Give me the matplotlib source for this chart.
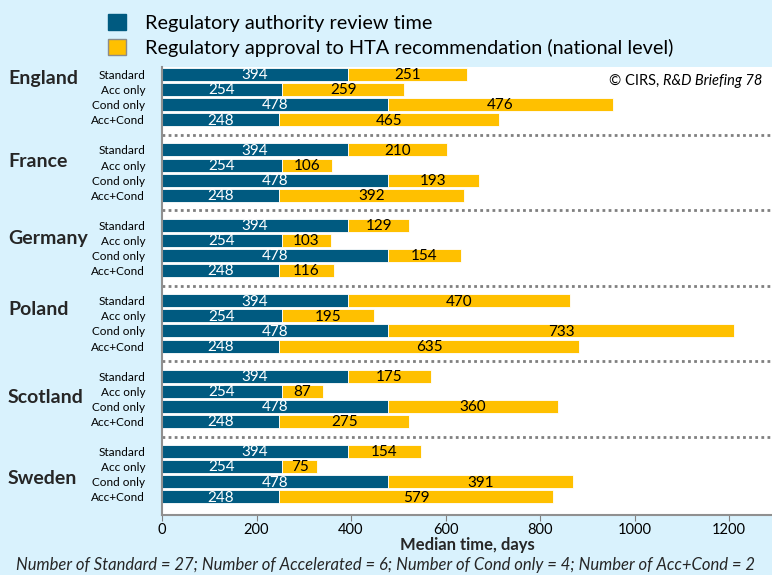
import numpy as np
import matplotlib.pyplot as plt
from matplotlib.patches import Patch

plt.rcParams['font.family'] = ['Lato', 'DejaVu Sans']

# Data
countries = ['England', 'France', 'Germany', 'Poland', 'Scotland', 'Sweden']
pathways = ['Standard', 'Acc only', 'Cond only', 'Acc+Cond']
review_time = [394, 254, 478, 248]
hta_time = {
    'England':  [251, 259, 476, 465],
    'France':   [210, 106, 193, 392],
    'Germany':  [129, 103, 154, 116],
    'Poland':   [470, 195, 733, 635],
    'Scotland': [175, 87, 360, 275],
    'Sweden':   [154, 75, 391, 579],
}
xticks = [0, 200, 400, 600, 800, 1000, 1200]

# vertical offset of the country label inside its group (in bar slots)
label_offset = [0.26, 0.76, 0.86, 0.56, 1.4, 1.8]

BLUE = '#005a80'
YELLOW = '#ffc000'
BG = '#d9f2fd'

fig = plt.figure(figsize=(7.72, 5.75), dpi=100, facecolor=BG)
ax = fig.add_axes([162 / 772, 60 / 575, 610 / 772, 448 / 575])
ax.set_facecolor('white')

ypos, ylabels = [], []
for g, c in enumerate(countries):
    for k, p in enumerate(pathways):
        y = g * 5 + k
        r = review_time[k]
        h = hta_time[c][k]
        ax.barh(y, r, height=0.86, color=BLUE, edgecolor='white', linewidth=0.6)
        ax.barh(y, h, left=r, height=0.86, color=YELLOW, edgecolor='white', linewidth=0.6)
        ax.text(r / 2, y + 0.05, str(r), ha='center', va='center', color='white', fontsize=11)
        ax.text(r + h / 2, y + 0.05, str(h), ha='center', va='center', color='black', fontsize=11)
        ypos.append(y)
        ylabels.append(p)
    if g < len(countries) - 1:
        ax.axhline(g * 5 + 4, color='#808080', linestyle=(0, (1, 1.2)), linewidth=2)
    ax.text(-162 / 0.4725 + 8 / 0.4725, g * 5 + label_offset[g], c, ha='left', va='center',
            fontsize=14, fontweight='bold', color='#262626', clip_on=False)

ax.set_yticks(ypos)
ax.set_yticklabels(ylabels, fontsize=8.5)
ax.tick_params(axis='y', length=0, pad=12)
ax.set_ylim(29.2, -0.5)
ax.set_xlim(0, 1291)
ax.set_xticks(xticks)
ax.tick_params(axis='x', colors='#808080', labelcolor='black', labelsize=10.5, length=4, pad=2)
for s in ['top', 'right']:
    ax.spines[s].set_visible(False)
ax.spines['left'].set_color('#909090')
ax.spines['left'].set_linewidth(1.5)
ax.spines['bottom'].set_color('#909090')
ax.spines['bottom'].set_linewidth(1.5)
ax.set_xlabel('Median time, days', fontsize=12, fontweight='bold', color='#262626', labelpad=0)

# copyright note
t = ax.text(0.985, 0.985, 'R&D Briefing 78', transform=ax.transAxes, ha='right', va='top',
            fontsize=10.5, style='italic')
ax.annotate('© CIRS, ', xy=(0, 0), xycoords=t, ha='right', va='bottom', fontsize=10.5)

handles = [Patch(facecolor=BLUE, edgecolor=BLUE),
           Patch(facecolor=YELLOW, edgecolor='#8c8c8c')]
fig.legend(handles, ['Regulatory authority review time',
                     'Regulatory approval to HTA recommendation (national level)'],
           loc='upper left', bbox_to_anchor=(96 / 772, 1 - 2 / 575), frameon=False,
           fontsize=14.3, handlelength=0.9, handleheight=0.9, handletextpad=0.95,
           labelspacing=0.35, borderaxespad=0.2)

fig.text(0.5, 2 / 575, 'Number of Standard = 27; Number of Accelerated = 6; Number of Cond only = 4; '
         'Number of Acc+Cond = 2', ha='center', va='bottom', fontsize=12, style='italic',
         color='#262626')

fig.savefig('out.png', dpi=100, facecolor=BG)
